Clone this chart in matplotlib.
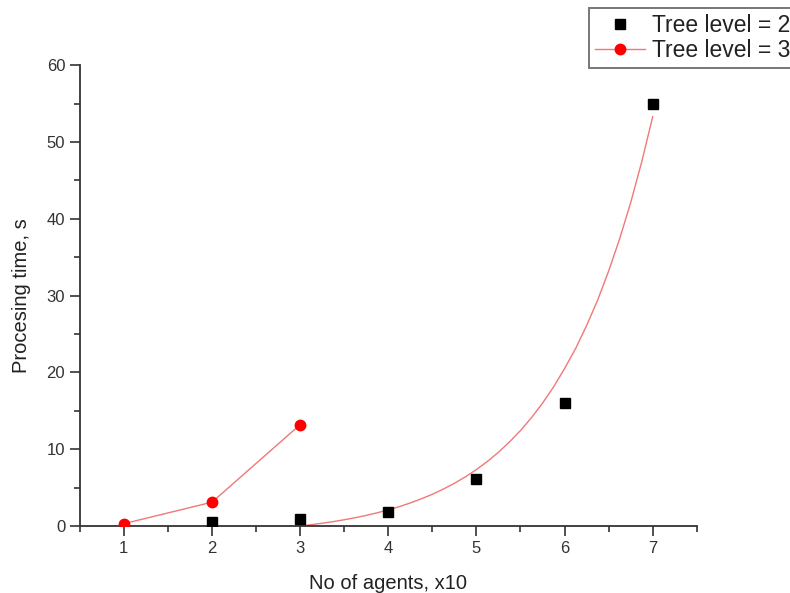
import numpy as np
import matplotlib
matplotlib.use('Agg')
import matplotlib.pyplot as plt
from matplotlib.ticker import MultipleLocator

plt.rcParams['font.family'] = ['Liberation Sans', 'DejaVu Sans']

# measured points (agents in tens, seconds)
agents_l2 = [2, 3, 4, 5, 6, 7]
time_l2 = [0.5, 0.9, 1.8, 6.1, 16.0, 55.0]

agents_l3 = [1, 2, 3]
time_l3 = [0.3, 3.1, 13.2]

# exponential fit curve for tree level 2
fit_x = [3.0, 3.125, 3.25, 3.375, 3.5, 3.625, 3.75, 3.875, 4.0,
         4.125, 4.25, 4.375, 4.5, 4.625, 4.75, 4.875, 5.0,
         5.125, 5.25, 5.375, 5.5, 5.625, 5.75, 5.875, 6.0,
         6.125, 6.25, 6.375, 6.5, 6.625, 6.75, 6.875, 7.0]
fit_y = [0.0, 0.17, 0.36, 0.57, 0.81, 1.08, 1.38, 1.72, 2.1,
         2.52, 3.0, 3.54, 4.13, 4.81, 5.56, 6.4, 7.35,
         8.41, 9.6, 10.94, 12.43, 14.11, 16.0, 18.1, 20.5,
         23.1, 26.1, 29.4, 33.2, 37.4, 42.1, 47.4, 53.3]

fig = plt.figure(figsize=(7.9, 5.93), dpi=100)
ax = fig.add_axes([0.101, 0.113, 0.781, 0.777])

line_red = '#f07878'
ax.plot(fit_x, fit_y, color=line_red, lw=1.0, zorder=2)
ax.plot(agents_l2, time_l2, ls='none', marker='s', ms=6.5, color='black',
        label='Tree level = 2', zorder=3)
ax.plot(agents_l3, time_l3, color=line_red, lw=1.0, marker='o', ms=7.5,
        mfc='red', mec='red', label='Tree level = 3', zorder=3)

ax.set_xlim(0.5, 7.5)
ax.set_ylim(0, 60)
ax.xaxis.set_major_locator(MultipleLocator(1))
ax.xaxis.set_minor_locator(MultipleLocator(0.5))
ax.yaxis.set_major_locator(MultipleLocator(10))
ax.yaxis.set_minor_locator(MultipleLocator(5))

for side in ['top', 'right']:
    ax.spines[side].set_visible(False)
for side in ['left', 'bottom']:
    ax.spines[side].set_linewidth(1.3)
    ax.spines[side].set_color('#333333')

ax.tick_params(which='major', direction='out', length=7, width=1.2,
               colors='#333333', labelsize=12, labelcolor='#333333')
ax.tick_params(which='minor', direction='out', length=4, width=1.2,
               colors='#333333')

ax.set_xlabel('No of agents, x10', fontsize=14.5, color='#222222', labelpad=13)
ax.set_ylabel('Procesing time, s', fontsize=14.5, color='#222222', labelpad=11)

leg = ax.legend(loc='upper left', bbox_to_anchor=(589 / 790, 1 - 8 / 593),
                bbox_transform=fig.transFigure, fontsize=16.5, frameon=True,
                fancybox=False, edgecolor='#555555', handlelength=2.2,
                handletextpad=0.3, labelspacing=0.1, borderpad=0.25,
                borderaxespad=0)
leg.get_frame().set_linewidth(1.4)
for t in leg.get_texts():
    t.set_color('#222222')

fig.savefig('out.png', dpi=100, facecolor='white')
